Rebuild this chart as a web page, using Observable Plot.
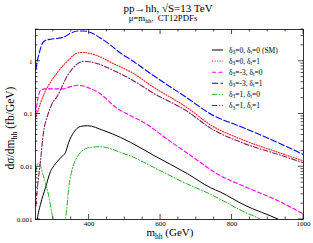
<!DOCTYPE html>
<html><head><meta charset="utf-8">
<script src="https://cdn.jsdelivr.net/npm/d3@7"></script>
<script src="https://cdn.jsdelivr.net/npm/@observablehq/plot@0.6"></script>
<style>body{margin:0;background:#fff} svg{font-family:"Liberation Serif",serif}</style>
</head><body><div id="c"></div>
<script>
// ---- data ----
const mSM  = [250, 255, 264, 278, 292, 302, 312, 322, 334, 343, 357, 376, 395, 441, 488, 516, 581, 675, 740, 768, 833, 931, 960];
const vSM  = [0.0005, 0.001, 0.00195, 0.004, 0.0082, 0.0105, 0.0128, 0.0152, 0.0187, 0.029, 0.045, 0.058, 0.060, 0.0485, 0.036, 0.029, 0.0164, 0.0074, 0.0040, 0.0033, 0.0019, 0.001, 0.0008];

const mD0T1 = [251, 258, 264, 275, 292, 310, 328, 345, 356, 372, 384, 400, 422, 446, 468, 488, 516, 581, 675, 740, 832, 927, 1000];
const vD0T1 = [0.09, 0.12, 0.16, 0.25, 0.40, 0.60, 0.84, 1.1, 1.3, 1.45, 1.47, 1.42, 1.28, 1.08, 0.9, 0.78, 0.63, 0.32, 0.131, 0.062, 0.032, 0.019, 0.0129];

const mDm3T0 = [251, 255, 259, 264, 275, 292, 328, 348, 368, 384, 400, 424, 446, 468, 516, 544, 628, 692, 759, 832, 927, 1000];
const vDm3T0 = [0.1, 0.17, 0.23, 0.28, 0.30, 0.30, 0.30, 0.33, 0.35, 0.34, 0.31, 0.26, 0.20, 0.145, 0.093, 0.075, 0.030, 0.015, 0.0073, 0.0043, 0.0023, 0.00127];

const mDm3T1 = [251, 255, 261, 268, 275, 292, 310, 328, 348, 368, 384, 404, 430, 460, 488, 516, 581, 675, 740, 832, 927, 1000];
const vDm3T1 = [0.7, 1.0, 1.48, 2.1, 2.42, 2.62, 2.7, 2.85, 3.4, 3.75, 3.75, 3.5, 2.8, 2.02, 1.43, 1.08, 0.53, 0.20, 0.10, 0.055, 0.029, 0.017];

const mD1T0 = [251, 256, 262, 270, 278, 287, 296, 302, 310, 318, 326, 332, 337, 343, 350, 357, 366, 376, 390, 404, 432, 460, 488, 516, 581, 675, 740, 768, 833, 880, 900];
const vD1T0 = [0.008, 0.0115, 0.011, 0.0075, 0.0048, 0.0028, 0.0013, 0.0008, 0.0003, 0.00015, 0.0003, 0.0008, 0.0015, 0.004, 0.0075, 0.0112, 0.015, 0.0187, 0.022, 0.0233, 0.024, 0.022, 0.0187, 0.016, 0.0097, 0.0047, 0.0030, 0.0024, 0.0014, 0.001, 0.0008];

const mD1T1 = [251, 256, 264, 272, 284, 295, 312, 340, 368, 384, 400, 424, 468, 516, 581, 675, 740, 832, 927, 1000];
const vD1T1 = [0.0018, 0.0044, 0.013, 0.043, 0.094, 0.15, 0.225, 0.54, 0.90, 1.0, 0.98, 0.90, 0.67, 0.46, 0.246, 0.112, 0.054, 0.028, 0.0173, 0.0119];

const delta3 = ["0", "0", "-3", "-3", "1", "1"];
const deltaT = ["0", "1", "0", "1", "0", "1"];
const suffix = [" (SM)", "", "", "", "", ""];
const xMajor = [400, 600, 800, 1000];
const yMajor = [0.001, 0.01, 0.1, 1];

// ---- styles ----
const styles = [
  {stroke: "#000000", w: 1.0, dash: null},
  {stroke: "#ff2a2a", w: 1.2, dash: "1,1.6"},
  {stroke: "#ff00ff", w: 1.1, dash: "4,2.5"},
  {stroke: "#0000ff", w: 1.1, dash: "6,2.5"},
  {stroke: "#22aa22", w: 1.0, dash: "5,2,1,2"},
  {stroke: "#84195a", w: 1.1, dash: "5,2,1,2"}
];
const seriesM = [mSM, mD0T1, mDm3T0, mDm3T1, mD1T0, mD1T1];
const seriesV = [vSM, vD0T1, vDm3T0, vDm3T1, vD1T0, vD1T1];

const lineMarks = seriesM.map((ms, i) => Plot.line(ms.map((m, j) => ({m, v: seriesV[i][j]})), {
  x: "m", y: "v", stroke: styles[i].stroke, strokeWidth: styles[i].w,
  strokeDasharray: styles[i].dash, curve: "monotone-x", clip: true
}));

const chart = Plot.plot({
  width: 313, height: 243,
  marginLeft: 35, marginRight: 10, marginTop: 29, marginBottom: 24,
  style: {fontFamily: "Liberation Serif, serif", fontSize: "7px", background: "#fff", color: "#000"},
  x: {domain: [250, 1000]},
  y: {type: "log", domain: [0.001, 4]},
  marks: [
    ...lineMarks,
    Plot.frame({stroke: "#000", strokeWidth: 0.8}),
    Plot.axisX({ticks: xMajor, tickSize: 0, tickPadding: 2, label: null, fontSize: 7, tickFormat: d => String(d)}),
    Plot.axisY({ticks: yMajor, tickSize: 0, tickPadding: 3, label: null, fontSize: 7, tickFormat: d => String(d)})
  ]
});
document.getElementById("c").appendChild(chart);

const svg = d3.select(chart);
const sx = chart.scale("x"), sy = chart.scale("y");
const L = 35, R = 313 - 10, T = 29, B = 243 - 24;
const g = svg.append("g").attr("stroke", "#000").attr("stroke-width", 0.7);
// x ticks (inward, bottom and top)
const xMinor = d3.range(300, 1000, 50).filter(v => !xMajor.includes(v));
for (const v of [...xMajor, ...xMinor]) {
  const len = xMajor.includes(v) ? 5 : 2.5;
  const px = sx.apply(v);
  g.append("line").attr("x1", px).attr("x2", px).attr("y1", B).attr("y2", B - len);
  g.append("line").attr("x1", px).attr("x2", px).attr("y1", T).attr("y2", T + len);
}
// y ticks (inward, left and right)
const yMinor = [];
for (const e of [0.001, 0.01, 0.1, 1]) for (let k = 2; k <= 9; k++) if (k * e <= 4) yMinor.push(k * e);
for (const v of [...yMajor, ...yMinor]) {
  const len = yMajor.includes(v) ? 5 : 2.5;
  const py = sy.apply(v);
  g.append("line").attr("y1", py).attr("y2", py).attr("x1", L).attr("x2", L + len);
  g.append("line").attr("y1", py).attr("y2", py).attr("x1", R).attr("x2", R - len);
}

// titles
svg.append("text").attr("x", 168).attr("y", 11.5).attr("text-anchor", "middle")
  .attr("font-size", 11).attr("fill", "#000").text("pp→hh, √S=13 TeV");
const sub = svg.append("text").attr("x", 163).attr("y", 21).attr("text-anchor", "middle")
  .attr("font-size", 8.8).attr("fill", "#000");
sub.append("tspan").text("μ=m");
sub.append("tspan").attr("font-size", 6).attr("dy", 2).text("hh");
sub.append("tspan").attr("dy", -2).text(",  CT12PDFs");

// axis labels
const xl = svg.append("text").attr("x", 170).attr("y", 236).attr("text-anchor", "middle")
  .attr("font-size", 11).attr("fill", "#000");
xl.append("tspan").text("m");
xl.append("tspan").attr("font-size", 7.5).attr("dy", 2.5).text("hh");
xl.append("tspan").attr("dy", -2.5).text(" (GeV)");

const yl = svg.append("text").attr("transform", "translate(14,128) rotate(-90)").attr("text-anchor", "middle")
  .attr("font-size", 11.5).attr("fill", "#000");
yl.append("tspan").text("dσ/dm");
yl.append("tspan").attr("font-size", 8).attr("dy", 2.5).text("hh");
yl.append("tspan").attr("dy", -2.5).text(" (fb/GeV)");

// legend
const lg = svg.append("g");
const rowY0 = 50, rowDy = 11.1;
styles.forEach((s, i) => {
  const y = rowY0 + i * rowDy;
  lg.append("line").attr("x1", 212).attr("x2", 223).attr("y1", y).attr("y2", y)
    .attr("stroke", s.stroke).attr("stroke-width", s.w).attr("stroke-dasharray", s.dash);
  const t = lg.append("text").attr("x", 229).attr("y", y + 2.5).attr("text-anchor", "start")
    .attr("font-size", 7.5).attr("fill", "#000");
  t.append("tspan").text("δ");
  t.append("tspan").attr("font-size", 5.5).attr("dy", 1.5).text("3");
  t.append("tspan").attr("dy", -1.5).text("=" + delta3[i] + ", δ");
  t.append("tspan").attr("font-size", 5.5).attr("dy", 1.5).text("t");
  t.append("tspan").attr("dy", -1.5).text("=" + deltaT[i] + suffix[i]);
});
</script>
</body></html>
